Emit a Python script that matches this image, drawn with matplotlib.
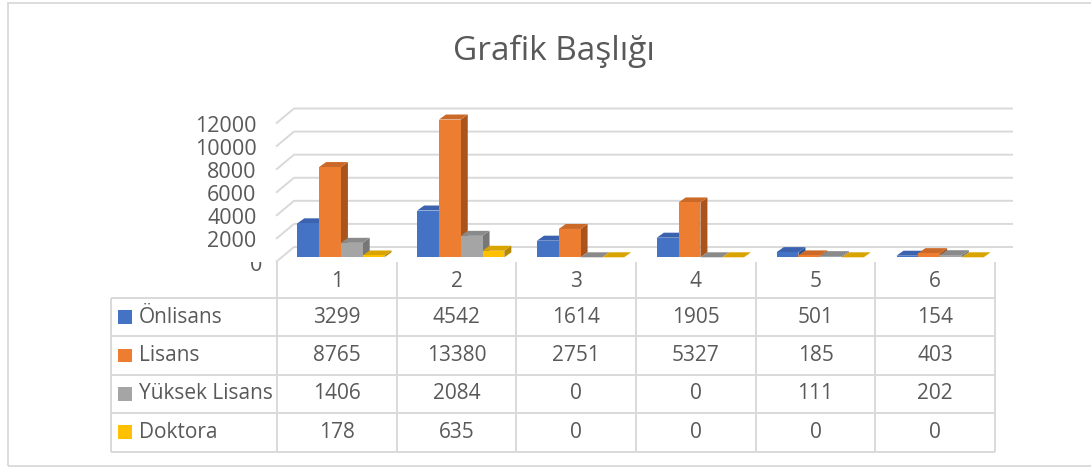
import matplotlib
matplotlib.use("Agg")
import matplotlib.pyplot as plt
from matplotlib.patches import Polygon, Rectangle
from matplotlib.transforms import Bbox, TransformedBbox
import numpy as np

plt.rcParams['font.family'] = ['Open Sans', 'DejaVu Sans']

# ---- data ----
categories = ["1", "2", "3", "4", "5", "6"]
series_names = ["Önlisans", "Lisans", "Yüksek Lisans", "Doktora"]
onlisans = [3299, 4542, 1614, 1905, 501, 154]
lisans = [8765, 13380, 2751, 5327, 185, 403]
yuksek_lisans = [1406, 2084, 0, 0, 111, 202]
doktora = [178, 635, 0, 0, 0, 0]
y_ticks = [0, 2000, 4000, 6000, 8000, 10000, 12000]
title = "Grafik Başlığı"

series = [onlisans, lisans, yuksek_lisans, doktora]
colors = ["#4472C4", "#ED7D31", "#A5A5A5", "#FFC000"]
top_colors = ["#3A62AE", "#CB6A28", "#8A8A8A", "#D9A400"]
side_colors = ["#2F5597", "#A9541D", "#777777", "#B58800"]
text_color = "#595959"
grid_color = "#D9D9D9"

W, H = 1091, 468
fig = plt.figure(figsize=(W / 100, H / 100), dpi=100)
fig.patch.set_facecolor("white")


def fx(px):
    return px / W


def fy(py):
    return 1 - py / H


# chart border
fig.add_artist(Rectangle((fx(8), fy(466)), fx(1200), fy(3) - fy(466),
                         transform=fig.transFigure, fill=False,
                         edgecolor="#D9D9D9", lw=1.3))

fig.text(fx(554), fy(51), title, ha="center", va="center",
         fontsize=24, color=text_color)

# ---- value axis (front plane of the wall system) ----
left_px, right_px = 276, 995
bot_px, top_px = 262, 123.5
ax = fig.add_axes([fx(left_px), fy(bot_px), fx(right_px - left_px),
                   fy(top_px) - fy(bot_px)])
n = len(categories)
ax.set_xlim(-0.5, n - 0.5)
ax.set_ylim(0, 12000)
ax.set_facecolor("none")
for s in ax.spines.values():
    s.set_visible(False)
ax.set_xticks([])
ax.set_yticks(y_ticks)
ax.set_yticklabels([""] + [str(t) for t in y_ticks[1:]])
ax.tick_params(axis="y", length=0, pad=14, labelsize=15.5, labelcolor=text_color)

fig.canvas.draw()
p0 = ax.transData.transform((0, 0))
p1 = ax.transData.transform((1, 1000))
px_x = p1[0] - p0[0]          # pixels per category
px_y = (p1[1] - p0[1]) / 1000  # pixels per unit

# the "0" label, its top half hidden behind the table header as in the reference
zero_lbl = ax.text(-0.5 - 14 / px_x, y_ticks[0] - 3.5 / px_y, str(y_ticks[0]),
                   ha="right", va="center", fontsize=15.5, color=text_color)
zero_lbl.set_clip_box(TransformedBbox(Bbox([[0, 0], [1, fy(261.5)]]),
                                      fig.transFigure))
zero_lbl.set_clip_on(True)

wall_dx, wall_dy = 18 / px_x, 15 / px_y
x_lo, x_hi = -0.5, n - 0.5
for v in y_ticks:
    ax.plot([x_lo, x_lo + wall_dx, x_hi + wall_dx], [v, v + wall_dy, v + wall_dy],
            color=grid_color, lw=1.4, clip_on=False, zorder=1,
            solid_capstyle="butt")

# ---- bars (separate depth plane, compressed as in the reference) ----
axb = fig.add_axes(ax.get_position())
axb.set_xlim(-0.5, n - 0.5)
axb.set_ylim(0, 13450)
axb.axis("off")
fig.canvas.draw()
q0 = axb.transData.transform((0, 0))
q1 = axb.transData.transform((1, 1000))
bx = q1[0] - q0[0]
by = (q1[1] - q0[1]) / 1000

off_x, off_y = 5 / bx, 4.7 / by      # bar front plane offset
dep_x, dep_y = 7 / bx, 5 / by        # bar depth
bw = 1 / (len(series) + 1.5)

for i in range(n):
    for j, vals in enumerate(series):
        v = vals[i]
        x0 = i - 2 * bw + j * bw + off_x
        x1 = x0 + bw
        y0 = off_y
        y1 = off_y + v
        side = Polygon([(x1, y0), (x1 + dep_x, y0 + dep_y),
                        (x1 + dep_x, y1 + dep_y), (x1, y1)],
                       closed=True, facecolor=side_colors[j], edgecolor="none",
                       clip_on=False, zorder=2)
        top = Polygon([(x0, y1), (x1, y1), (x1 + dep_x, y1 + dep_y),
                       (x0 + dep_x, y1 + dep_y)], closed=True,
                      facecolor=top_colors[j], edgecolor="none",
                      clip_on=False, zorder=2)
        axb.add_patch(side)
        axb.add_patch(top)
        if v > 0:
            front = Rectangle((x0, y0), bw, v, facecolor=colors[j],
                              edgecolor="none", clip_on=False, zorder=2)
            axb.add_patch(front)

# ---- data table ----
t_left, t_right, t_top, t_bot = 111, 995, 262, 451.5
lab_w = 277 - t_left
col_w = (t_right - 277) / n
axt = fig.add_axes([fx(t_left), fy(t_bot), fx(t_right - t_left), fy(t_top) - fy(t_bot)])
axt.axis("off")
xl = -0.5 - lab_w / col_w
axt.set_xlim(xl, n - 0.5)
head_h = 36 / ((t_bot - 298) / 4)
axt.set_ylim(4, -head_h)

lw_t = 1.4
for k in range(n + 1):
    xk = -0.5 + k
    axt.plot([xk, xk], [-head_h, 4], color=grid_color, lw=lw_t, clip_on=False,
             solid_capstyle="butt")
axt.plot([xl, xl], [0, 4], color=grid_color, lw=lw_t, clip_on=False,
         solid_capstyle="butt")
for r in range(5):
    axt.plot([xl, n - 0.5], [r, r], color=grid_color, lw=lw_t, clip_on=False,
             solid_capstyle="butt")

for i, c in enumerate(categories):
    axt.text(i, -head_h / 2 + 0.05, c, ha="center", va="center", fontsize=15,
             color=text_color)

key_w = 14 / col_w
for r, (name, vals) in enumerate(zip(series_names, series)):
    kx = xl + 7 / col_w
    axt.add_patch(Rectangle((kx, r + 0.5 - 0.18), key_w, 0.36,
                            facecolor=colors[r], edgecolor="none", clip_on=False))
    axt.text(xl + 28 / col_w, r + 0.5, name, ha="left", va="center",
             fontsize=15, color=text_color)
    for i, v in enumerate(vals):
        axt.text(i, r + 0.5, str(v), ha="center", va="center", fontsize=15,
                 color=text_color)

fig.savefig("out.png", dpi=100, facecolor="white")
